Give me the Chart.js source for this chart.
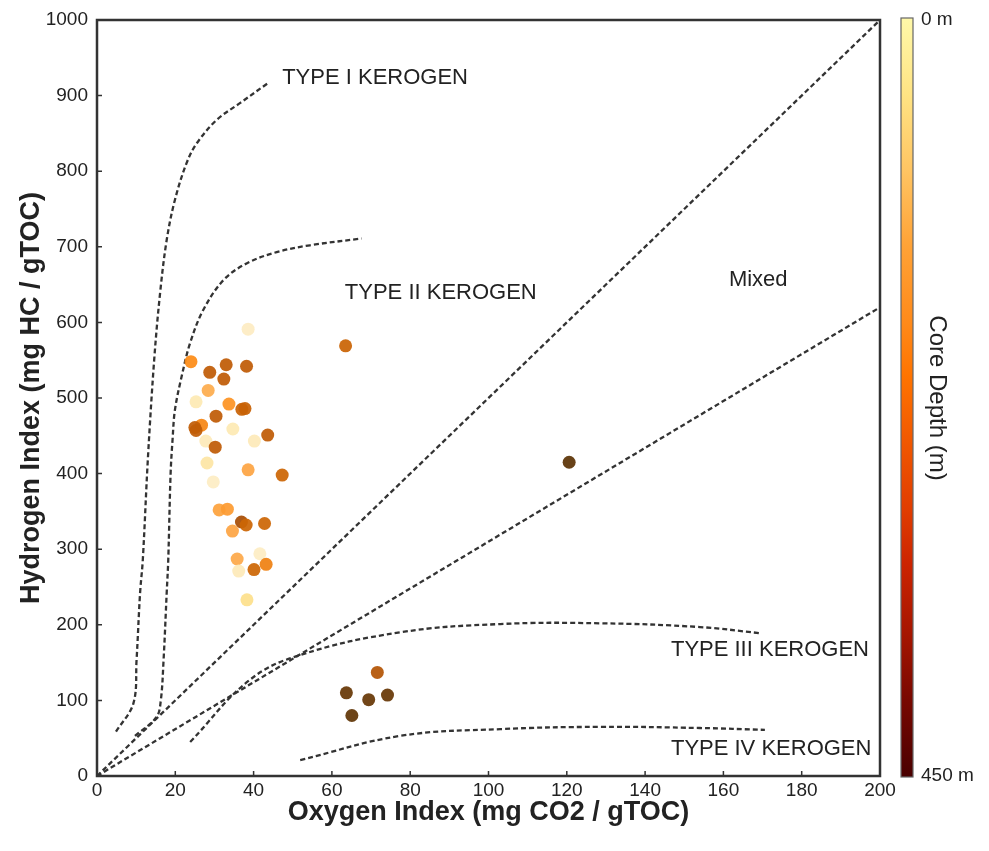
<!DOCTYPE html>
<html lang="en">
<head>
  <meta charset="UTF-8">
  <title>Kerogen Type Diagram</title>
  <style>
    html, body { margin: 0; padding: 0; background: #fff; }
    #wrap { width: 989px; height: 851px; }
  </style>
  <script src="https://cdn.jsdelivr.net/npm/chart.js"></script>
</head>
<body>
  <div id="wrap"><canvas id="chart" width="989" height="851"></canvas></div>
  <script>
    // samples: oxygen index, hydrogen index, core depth (m)
    const oxygenIdx = [38.6, 24.0, 33.0, 38.2, 28.8, 32.4, 28.4, 25.3, 33.7, 37.0, 37.8, 30.4, 26.7, 25.0, 25.3,
      34.7, 43.6, 27.8, 40.2, 30.2, 28.1, 38.6, 47.3, 29.7, 31.2, 33.3, 36.9, 38.1, 42.8, 34.6, 35.8, 41.6,
      36.2, 40.1, 43.2, 38.3, 63.5, 120.6, 71.6, 63.7, 69.4, 74.2, 65.1];
    const hydrogenIdx = [591, 548, 544, 542, 534, 525, 510, 495, 492, 485, 486, 476, 464, 461, 457,
      459, 451, 443, 443, 435, 414, 405, 398, 389, 352, 353, 336, 332, 334, 324, 287, 294,
      271, 273, 280, 233, 569, 415, 137, 110, 101, 107, 80];
    const coreDepth = [60, 250, 350, 350, 350, 350, 205, 75, 240, 330, 330, 350, 260, 345, 345,
      75, 350, 70, 70, 350, 90, 215, 320, 55, 220, 230, 380, 320, 320, 215, 210, 55,
      70, 320, 270, 115, 325, 450, 365, 440, 440, 440, 445];

    // kerogen boundary curves (OI, HI)
    const type1X = [4.85, 9.3, 10.1, 11.0, 11.7, 13.0, 14.6, 16.1, 17.8, 19.9, 22.9, 25.5, 30.6, 36.5, 43.8];
    const type1Y = [58.6, 96, 153, 242, 286, 420, 550, 638, 709, 762, 811, 837, 868, 890, 917];
    const type2X = [9.7, 15.2, 16.3, 17.0, 17.8, 18.2, 18.8, 19.3, 19.9, 21.6, 23.8, 27.1, 32.3, 38.2, 45.9, 54.4, 67.6];
    const type2Y = [53, 78, 100, 153, 242, 286, 400, 445, 484, 528, 573, 616, 656, 678, 693, 702, 711];
    const diagX = [0, 200];
    const diagY = [0, 1000];
    const mixedX = [0, 200];
    const mixedY = [0, 620];
    const type3X = [23.8, 39, 51.9, 77.4, 103, 128.5, 154, 169.3];
    const type3Y = [45, 127, 160, 190, 201, 202, 197, 189];
    const type4X = [51.9, 77.4, 103, 128.5, 154, 170.6];
    const type4Y = [21, 53, 62, 65, 63.5, 61];

    // region labels
    const labelText = ['TYPE I KEROGEN', 'TYPE II KEROGEN', 'Mixed', 'TYPE III KEROGEN', 'TYPE IV KEROGEN'];
    const labelX = [47.3, 63.3, 161.4, 146.6, 146.6];
    const labelY = [923, 639, 656, 167, 36];

    const depthMax = 450;

    // point colours by depth (m)
    const pointDepths = [0, 60, 115, 210, 250, 320, 350, 380, 450];
    const pointColors = ['#fff6d0', '#fdecc3', '#fde08c', '#fda94a', '#fd8c17', '#cc6605', '#bf5b06', '#a84e04', '#5c3406'];
    // colour bar as it appears
    const barStops = [[0, '#fff8a8'], [0.1, '#ffe383'], [0.2, '#ffc462'], [0.3, '#ffa236'], [0.4, '#ff8a1a'],
      [0.47, '#ff7400'], [0.55, '#f25a00'], [0.65, '#e03c00'], [0.72, '#cc2400'], [0.82, '#a21400'],
      [0.9, '#780800'], [1, '#4a0000']];

    function hexRgb(h) {
      return [parseInt(h.slice(1, 3), 16), parseInt(h.slice(3, 5), 16), parseInt(h.slice(5, 7), 16)];
    }
    function depthColor(d) {
      let i = 0;
      while (i < pointDepths.length - 2 && d > pointDepths[i + 1]) i++;
      const f = Math.min(1, Math.max(0, (d - pointDepths[i]) / (pointDepths[i + 1] - pointDepths[i])));
      const a = hexRgb(pointColors[i]), b = hexRgb(pointColors[i + 1]);
      const c = a.map((v, k) => Math.round(v + (b[k] - v) * f));
      return 'rgba(' + c[0] + ',' + c[1] + ',' + c[2] + ',0.93)';
    }
    function pts(xs, ys) {
      return xs.map((x, i) => ({ x: x, y: ys[i] }));
    }
    function curve(xs, ys, tension) {
      return {
        type: 'line', data: pts(xs, ys), borderColor: '#333', borderWidth: 2.3,
        borderDash: [5, 3], pointRadius: 0, fill: false, tension: tension, order: 2
      };
    }
    function noPad(s) {
      s.paddingTop = 0; s.paddingBottom = 0; s.paddingLeft = 0; s.paddingRight = 0;
    }

    const FONT = "'Liberation Sans', Arial, sans-serif";

    const framePlugin = {
      id: 'frame',
      afterDatasetsDraw(chart) {
        const ctx = chart.ctx, a = chart.chartArea;
        const xs = chart.scales.x, ys = chart.scales.y;
        ctx.save();
        // region labels
        ctx.fillStyle = '#222';
        ctx.font = '22px ' + FONT;
        ctx.textBaseline = 'middle';
        ctx.textAlign = 'left';
        labelText.forEach((t, i) => {
          ctx.fillText(t, xs.getPixelForValue(labelX[i]), ys.getPixelForValue(labelY[i]));
        });
        // inward ticks
        ctx.strokeStyle = '#333';
        ctx.lineWidth = 1.5;
        ctx.beginPath();
        xs.ticks.forEach(t => {
          const px = xs.getPixelForValue(t.value);
          ctx.moveTo(px, a.bottom); ctx.lineTo(px, a.bottom - 5);
        });
        ys.ticks.forEach(t => {
          const py = ys.getPixelForValue(t.value);
          ctx.moveTo(a.left, py); ctx.lineTo(a.left + 5, py);
        });
        ctx.stroke();
        // frame
        ctx.lineWidth = 2.5;
        ctx.strokeRect(a.left, a.top, a.right - a.left, a.bottom - a.top);
        // colour bar
        const ds = chart.scales.depth;
        const top = ds.getPixelForValue(0), bot = ds.getPixelForValue(depthMax);
        const bx = a.right + 21, bw = 12;
        const g = ctx.createLinearGradient(0, top, 0, bot);
        barStops.forEach(s => g.addColorStop(s[0], s[1]));
        ctx.fillStyle = g;
        ctx.fillRect(bx, top - 2, bw, bot - top + 3);
        ctx.strokeStyle = '#666';
        ctx.lineWidth = 1.2;
        ctx.strokeRect(bx, top - 2, bw, bot - top + 3);
        ctx.restore();
      }
    };

    new Chart(document.getElementById('chart'), {
      type: 'scatter',
      data: {
        datasets: [
          {
            label: 'Samples', data: pts(oxygenIdx, hydrogenIdx),
            backgroundColor: coreDepth.map(depthColor), borderWidth: 0,
            pointRadius: 6.5, pointHoverRadius: 6.5, order: 0
          },
          curve(type1X, type1Y, 0.35),
          curve(type2X, type2Y, 0.35),
          curve(diagX, diagY, 0),
          curve(mixedX, mixedY, 0),
          curve(type3X, type3Y, 0.4),
          curve(type4X, type4Y, 0.4)
        ]
      },
      options: {
        responsive: false,
        animation: false,
        events: [],
        layout: { padding: { top: 20, left: 0, right: 0, bottom: 0 } },
        plugins: { legend: { display: false }, tooltip: { enabled: false } },
        scales: {
          x: {
            type: 'linear', min: 0, max: 200,
            ticks: { stepSize: 20, color: '#222', font: { family: FONT, size: 19 }, padding: 3, callback: v => String(v) },
            grid: { display: false, drawTicks: false },
            border: { display: false },
            title: {
              display: true, text: 'Oxygen Index (mg CO2 / gTOC)', color: '#222',
              font: { family: FONT, size: 27, weight: 'bold' }, padding: { top: 22, bottom: 22 }
            },
            afterFit(s) { s.height = 75; noPad(s); }
          },
          y: {
            type: 'linear', min: 0, max: 1000,
            ticks: { stepSize: 100, color: '#222', font: { family: FONT, size: 19 }, padding: 9, callback: v => String(v) },
            grid: { display: false, drawTicks: false },
            border: { display: false },
            title: {
              display: true, text: 'Hydrogen Index (mg HC / gTOC)', color: '#222',
              font: { family: FONT, size: 27, weight: 'bold' }, padding: { top: 15, bottom: 15 }
            },
            afterFit(s) { s.width = 97; noPad(s); }
          },
          depth: {
            type: 'linear', position: 'right', min: 0, max: depthMax, reverse: true,
            ticks: {
              stepSize: depthMax, color: '#222', font: { family: FONT, size: 19 }, padding: 41,
              callback: v => v + ' m'
            },
            grid: { display: false, drawTicks: false },
            border: { display: false },
            title: {
              display: true, text: 'Core Depth (m)', color: '#222',
              font: { family: FONT, size: 24 }, padding: { top: 38, bottom: 38 }
            },
            afterFit(s) { s.width = 109; noPad(s); }
          }
        }
      },
      plugins: [framePlugin]
    });
  </script>
</body>
</html>
